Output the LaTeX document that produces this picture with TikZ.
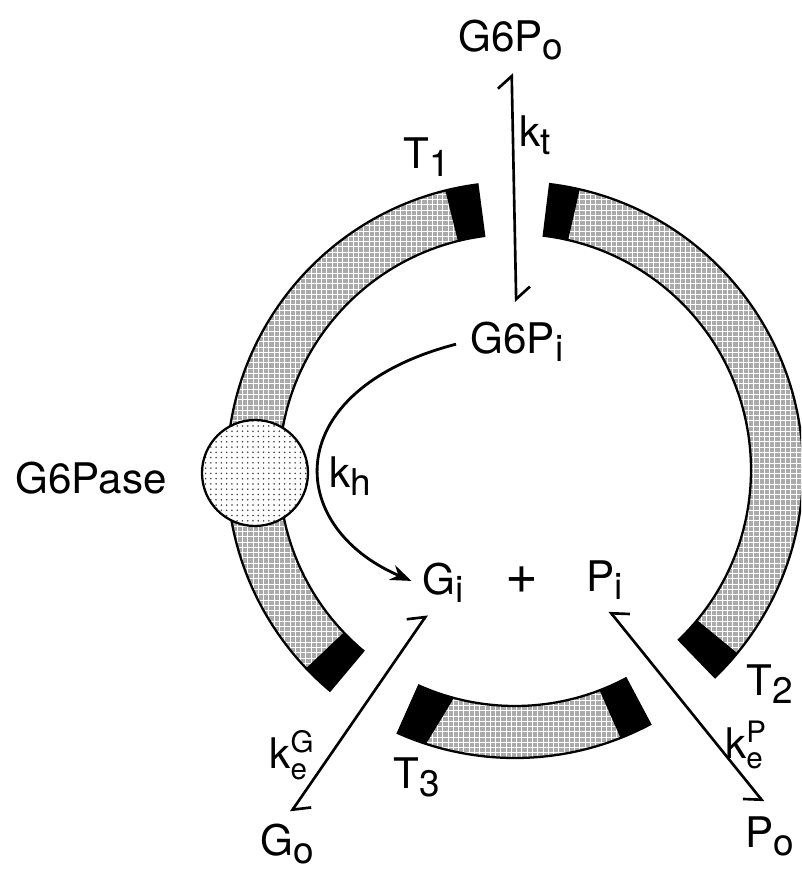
\documentclass[tikz,border=0pt]{standalone}
\usepackage{fontspec}
\setmainfont{TeX Gyre Heros}
\usepackage{amsmath}
\usetikzlibrary{arrows.meta, patterns}
\definecolor{MembGray}{RGB}{170,170,170}
\newcommand{\lw}[1]{\raisebox{-4.5pt}{\fontsize{21}{21}\selectfont #1}}

\begin{document}
\begin{tikzpicture}[x=0.02cm, y=0.02cm, font=\fontsize{24}{28}\selectfont,
	mb/.style={preaction={fill=MembGray}, pattern=grid, pattern color=white,
		draw=black, line width=1.3pt},
	endblk/.style={fill=black},
	enz/.style={circle, draw=black, line width=1.3pt, minimum size=2.12cm,
		inner sep=0pt, preaction={fill=white}, pattern=dots,
		pattern color=black!75},
	hl/.style={{Straight Barb[left,length=7pt,width=16pt]}-{Straight Barb[left,length=7pt,width=16pt]},
		line width=1.5pt},
	hr/.style={{Straight Barb[right,length=7pt,width=16pt]}-{Straight Barb[right,length=7pt,width=16pt]},
		line width=1.5pt},
	fh/.style={-{Stealth[length=12pt,width=9pt]}, line width=1.6pt}]
	\useasboundingbox (-515,-404) rectangle (286,470);
	\clip (-515,-404) rectangle (286,470);
	\filldraw[mb] (97.5:288) arc[start angle=97.5, end angle=230, radius=288]
		-- (230:236) arc[start angle=230, end angle=97.5, radius=236] -- cycle;
	\fill[endblk] (97.5:288) arc[start angle=97.5, end angle=104, radius=288]
		-- (104:236) arc[start angle=104, end angle=97.5, radius=236] -- cycle;
	\fill[endblk] (223.5:288) arc[start angle=223.5, end angle=230, radius=288]
		-- (230:236) arc[start angle=230, end angle=223.5, radius=236] -- cycle;
	\filldraw[mb] (83:288) arc[start angle=83, end angle=-46, radius=288]
		-- (-46:236) arc[start angle=-46, end angle=83, radius=236] -- cycle;
	\fill[endblk] (83:288) arc[start angle=83, end angle=77, radius=288]
		-- (77:236) arc[start angle=77, end angle=83, radius=236] -- cycle;
	\fill[endblk] (-39.5:288) arc[start angle=-39.5, end angle=-46, radius=288]
		-- (-46:236) arc[start angle=-46, end angle=-39.5, radius=236] -- cycle;
	\filldraw[mb] (246:288) arc[start angle=246, end angle=298, radius=288]
		-- (298:236) arc[start angle=298, end angle=246, radius=236] -- cycle;
	\fill[endblk] (246:288) arc[start angle=246, end angle=252, radius=288]
		-- (255:236) arc[start angle=255, end angle=246, radius=236] -- cycle;
	\fill[endblk] (291.5:288) arc[start angle=291.5, end angle=298, radius=288]
		-- (298:236) arc[start angle=298, end angle=291, radius=236] -- cycle;
	\node[enz] (pase) at (-260,-3) {};
	\node (g6po) at (-4,430)    {G6P\lw{o}};
	\node (kt)   at (20,335)    {k\lw{t}};
	\node (t1)   at (-88,313)   {T\lw{1}};
	\node (g6pi) at (2,128)     {G6P\lw{i}};
	\node (name) at (-424,-8)   {G6Pase};
	\node (kh)   at (-165,-6)   {k\lw{h}};
	\node (gi)   at (-72,-113)  {G\lw{i}};
	\node (plus) at (7,-110)    {\fontsize{32}{32}\selectfont+};
	\node (pi)   at (90,-110)   {P\lw{i}};
	\node (t2)   at (255,-214)  {T\lw{2}};
	\node (kp)   at (231,-275)  {k$^{\text{P}}_{\text{e}}$};
	\node (t3)   at (-98,-307)  {T\lw{3}};
	\node (kg)   at (-223,-285) {k$^{\text{G}}_{\text{e}}$};
	\node (go)   at (-228,-374) {G\lw{o}};
	\node (po)   at (255,-366)  {P\lw{o}};
	\draw[hl, shorten <=4pt, shorten >=8pt] (g6po) -- (g6pi);
	\draw[hl, shorten <=4pt, shorten >=4pt] (go.north) -- (gi.245);
	\draw[hr, shorten <=4pt, shorten >=6pt] (pi.south) -- (po.north);
	\draw[fh, shorten <=5pt, shorten >=3pt] (g6pi.west)
		.. controls +(-185,-48) and +(-133,57) .. (gi.west);
\end{tikzpicture}
\end{document}
